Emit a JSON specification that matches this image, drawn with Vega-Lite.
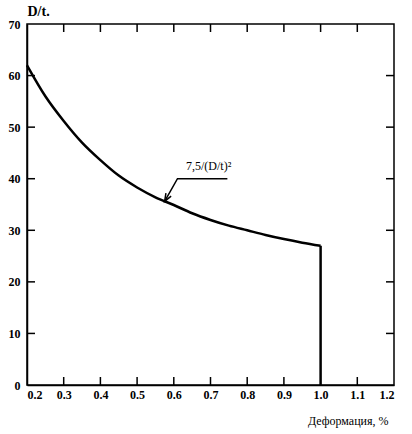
{
  "$schema": "https://vega.github.io/schema/vega-lite/v6.json",
  "width": 367,
  "height": 361,
  "autosize": {"type": "none"},
  "padding": {"left": 27, "top": 24, "right": 18, "bottom": 49},
  "background": "white",
  "config": {
    "view": {"stroke": "black", "strokeWidth": 1.5},
    "font": "Liberation Serif",
    "axis": {
      "grid": false,
      "domainColor": "black",
      "domainWidth": 1.5,
      "tickColor": "black",
      "tickWidth": 1.5,
      "tickOpacity": 0,
      "labelColor": "black",
      "titleColor": "black",
      "labelFont": "Liberation Serif",
      "labelFontSize": 12,
      "labelFontWeight": "bold",
      "labelOverlap": false,
      "titleFont": "Liberation Serif"
    }
  },
  "datasets": {
    "curve": [
      {"x": 0.2, "y": 62.0},
      {"x": 0.25, "y": 56.0},
      {"x": 0.3, "y": 51.2},
      {"x": 0.35, "y": 47.0},
      {"x": 0.4, "y": 43.6},
      {"x": 0.45, "y": 40.6},
      {"x": 0.5, "y": 38.3},
      {"x": 0.55, "y": 36.4},
      {"x": 0.6, "y": 34.9},
      {"x": 0.65, "y": 33.3},
      {"x": 0.7, "y": 32.0},
      {"x": 0.75, "y": 30.9},
      {"x": 0.8, "y": 30.0},
      {"x": 0.85, "y": 29.1},
      {"x": 0.9, "y": 28.3},
      {"x": 0.95, "y": 27.6},
      {"x": 1.0, "y": 27.0}
    ],
    "drop": [{"x": 1.0, "y": 27.0, "y2": 0}],
    "leader": [
      {"i": 0, "x": 0.575, "y": 35.6},
      {"i": 1, "x": 0.61, "y": 40.0},
      {"i": 2, "x": 0.746, "y": 40.0}
    ],
    "arrow": [{"x": 0.575, "y": 35.6}],
    "label": [{"x": 0.695, "y": 41.6, "text": "7,5/(D/t)²"}],
    "topticks": [
      {"x": 0.3, "y": 70}, {"x": 0.4, "y": 70}, {"x": 0.5, "y": 70},
      {"x": 0.6, "y": 70}, {"x": 0.7, "y": 70}, {"x": 0.8, "y": 70},
      {"x": 0.9, "y": 70}, {"x": 1.0, "y": 70}, {"x": 1.1, "y": 70}
    ],
    "bottomticks": [
      {"x": 0.3, "y": 0}, {"x": 0.4, "y": 0}, {"x": 0.5, "y": 0},
      {"x": 0.6, "y": 0}, {"x": 0.7, "y": 0}, {"x": 0.8, "y": 0},
      {"x": 0.9, "y": 0}, {"x": 1.1, "y": 0}
    ],
    "leftticks": [
      {"x": 0.2, "y": 10}, {"x": 0.2, "y": 20}, {"x": 0.2, "y": 30},
      {"x": 0.2, "y": 40}, {"x": 0.2, "y": 50}, {"x": 0.2, "y": 60}
    ],
    "rightticks": [
      {"x": 1.2, "y": 10}, {"x": 1.2, "y": 20}, {"x": 1.2, "y": 30},
      {"x": 1.2, "y": 40}, {"x": 1.2, "y": 50}, {"x": 1.2, "y": 60}
    ]
  },
  "encoding": {
    "x": {
      "field": "x", "type": "quantitative",
      "scale": {"domain": [0.2, 1.2], "nice": false, "zero": false},
      "axis": {
        "orient": "bottom",
        "values": [0.2, 0.3, 0.4, 0.5, 0.6, 0.7, 0.8, 0.9, 1.0, 1.1, 1.2],
        "format": ".1f",
        "tickSize": -8,
        "labelOverlap": false,
        "labelPadding": 12,
        "title": "Деформация, %",
        "titleFontSize": 12,
        "titleFontWeight": "normal",
        "titleAlign": "right",
        "titleAnchor": null,
        "titleX": 361,
        "titleY": 39,
        "titleBaseline": "alphabetic"
      }
    },
    "y": {
      "field": "y", "type": "quantitative",
      "scale": {"domain": [0, 70], "nice": false, "zero": false},
      "axis": {
        "orient": "left",
        "values": [0, 10, 20, 30, 40, 50, 60, 70],
        "format": "d",
        "tickSize": -8,
        "labelOverlap": false,
        "labelPadding": 15,
        "title": "D/t.",
        "titleAngle": 0,
        "titleFontSize": 14,
        "titleFontWeight": "bold",
        "titleAlign": "left",
        "titleAnchor": null,
        "titleX": 0,
        "titleY": -9,
        "titleBaseline": "alphabetic"
      }
    }
  },
  "layer": [
    {
      "data": {"name": "curve"},
      "mark": {"type": "line", "color": "black", "strokeWidth": 2.5, "interpolate": "monotone"}
    },
    {
      "data": {"name": "drop"},
      "mark": {"type": "rule", "color": "black", "strokeWidth": 2.5},
      "encoding": {"y2": {"field": "y2"}}
    },
    {
      "data": {"name": "leader"},
      "mark": {"type": "line", "color": "black", "strokeWidth": 1.5},
      "encoding": {"order": {"field": "i", "type": "quantitative"}}
    },
    {
      "data": {"name": "arrow"},
      "mark": {
        "type": "point",
        "shape": "M -0.5 1.3 L 0 0 L 0.5 1.3",
        "filled": false,
        "stroke": "black",
        "strokeWidth": 1.5,
        "size": 144,
        "angle": 210,
        "opacity": 1
      }
    },
    {
      "data": {"name": "label"},
      "mark": {"type": "text", "font": "Liberation Serif", "fontSize": 12, "align": "center", "baseline": "alphabetic", "color": "black"},
      "encoding": {"text": {"field": "text"}}
    },
    {
      "data": {"name": "topticks"},
      "mark": {"type": "point", "shape": "M 0 0 L 0 2", "filled": false, "stroke": "black", "strokeWidth": 1.5, "size": 64, "opacity": 1}
    },
    {
      "data": {"name": "bottomticks"},
      "mark": {"type": "point", "shape": "M 0 0 L 0 -2", "filled": false, "stroke": "black", "strokeWidth": 1.5, "size": 64, "opacity": 1}
    },
    {
      "data": {"name": "leftticks"},
      "mark": {"type": "point", "shape": "M 0 0 L 2 0", "filled": false, "stroke": "black", "strokeWidth": 1.5, "size": 64, "opacity": 1}
    },
    {
      "data": {"name": "rightticks"},
      "mark": {"type": "point", "shape": "M 0 0 L -2 0", "filled": false, "stroke": "black", "strokeWidth": 1.5, "size": 64, "opacity": 1}
    }
  ]
}
